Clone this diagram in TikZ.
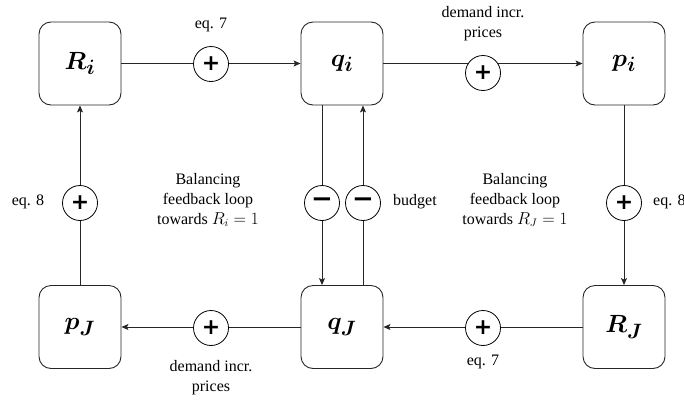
\documentclass[tikz,border=0pt]{standalone}
\usepackage{fontspec}
\setmainfont{Liberation Serif}
\newfontfamily\signfont{DejaVu Sans}
\usetikzlibrary{arrows.meta}

\tikzset{
  block/.style={draw=black!85, line width=0.9pt, rounded corners=12pt,
    minimum width=82pt, minimum height=83pt, inner sep=0pt,
    font=\fontsize{28}{34}\selectfont\boldmath},
  sign/.style={circle, draw=black, line width=0.8pt, fill=white,
    minimum size=35pt, inner sep=0pt,
    font=\signfont\bfseries\fontsize{22}{22}\selectfont},
  minussign/.style={sign, font=\signfont\bfseries\fontsize{26}{26}\selectfont},
  link/.style={draw=black!85, line width=0.9pt},
  flow/.style={link, -{Stealth[length=7pt,width=6pt,inset=1.5pt]}},
  lbl/.style={inner sep=0pt, align=center, font=\fontsize{16}{20}\selectfont},
}

\begin{document}
\begin{tikzpicture}[x=1pt,y=-1pt]
  \useasboundingbox (0,0) rectangle (684,399);

  % stocks
  \node[block] (Ri) at (80,63.5)  {$R_i$};
  \node[block] (qi) at (342,63.5) {$q_i$};
  \node[block] (pi) at (624,63.5) {$p_i$};
  \node[block] (pJ) at (80,327)   {$p_J$};
  \node[block] (qJ) at (342,327)  {$q_J$};
  \node[block] (RJ) at (624,327)  {$R_J$};

  % causal links
  \draw[flow] (Ri) -- (qi);
  \draw[flow] (qi) -- (pi);
  \draw[flow] (RJ) -- (qJ);
  \draw[flow] (qJ) -- (pJ);
  \draw[flow] (pJ) -- (Ri);
  \draw[flow] (pi) -- (RJ);
  \draw[flow] ([xshift=-20pt]qi.south) -- ([xshift=-20pt]qJ.north);
  \draw[flow] ([xshift=21pt]qJ.north) -- ([xshift=21pt]qi.south);

  % polarity markers
  \node[sign] (s1) at (211,64)  {+};
  \node[sign] (s2) at (483,73)  {+};
  \node[sign] (s3) at (483,328) {+};
  \node[sign] (s4) at (211,328) {+};
  \node[sign] (s5) at (80,203)  {+};
  \node[sign] (s6) at (624,203) {+};
  \node[minussign] (m1) at (322,203) {−};
  \node[minussign] (m2) at (363,203) {−};

  % annotations
  \node[lbl] (t1) at (211,25)  {eq. 7};
  \node[lbl] (t2) at (483,24)  {demand incr.\\prices};
  \node[lbl] (t3) at (208,200) {Balancing\\feedback loop\\towards $R_i=1$};
  \node[lbl] (t4) at (515,200) {Balancing\\feedback loop\\towards $R_J=1$};
  \node[lbl] (t5) at (415,202) {budget};
  \node[lbl] (t6) at (28,202)  {eq. 8};
  \node[lbl, anchor=west] (t7) at (653,202) {eq. 8};
  \node[lbl] (t8) at (211,378) {demand incr.\\prices};
  \node[lbl] (t9) at (483,362) {eq. 7};
\end{tikzpicture}
\end{document}
